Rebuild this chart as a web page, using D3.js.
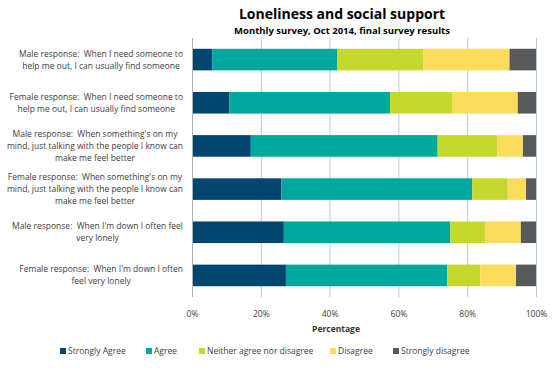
<!DOCTYPE html>
<html>
<head>
<meta charset="utf-8">
<title>Loneliness and social support</title>
<script src="https://d3js.org/d3.v7.min.js"></script>
<style>
  body { margin: 0; background: #fff; }
  text { font-family: "Open Sans", "Liberation Sans", sans-serif; fill: #333; white-space: pre; }
</style>
</head>
<body>
<svg width="552" height="368"></svg>
<script>
// categories (line breaks as in the chart)
var categories = [
  "Male response:  When I need someone to\nhelp me out, I can usually find someone",
  "Female response:  When I need someone to\nhelp me out, I can usually find someone",
  "Male response:  When something's on my\nmind, just talking with the people I know can\nmake me feel better",
  "Female response:  When something's on my\nmind, just talking with the people I know can\nmake me feel better",
  "Male response:  When I'm down I often feel\nvery lonely",
  "Female response:  When I'm down I often\nfeel very lonely"
];
var seriesNames = ["Strongly Agree", "Agree", "Neither agree nor disagree", "Disagree", "Strongly disagree"];
var stronglyAgree    = [5.9, 10.8, 17.1, 26.0, 26.7, 27.3];
var agree            = [36.3, 46.8, 54.3, 55.5, 48.4, 46.9];
var neither          = [25.0, 18.0, 17.3, 10.3, 10.1, 9.6];
var disagree         = [25.1, 19.1, 7.5, 5.3, 10.4, 10.4];
var stronglyDisagree = [7.7, 5.3, 3.8, 2.9, 4.4, 5.8];
var colors = ["#00466e", "#00a79d", "#c4d82e", "#fddc5c", "#58595b"];
var xTicks = [0, 20, 40, 60, 80, 100];

var values = [stronglyAgree, agree, neither, disagree, stronglyDisagree];
var rows = categories.map(function (c, i) {
  var r = { cat: c };
  seriesNames.forEach(function (s, k) { r[s] = values[k][i]; });
  return r;
});

var svg = d3.select("svg");
var plotL = 192, plotR = 536, plotT = 38, plotB = 297;

var x = d3.scaleLinear().domain([0, 100]).range([plotL, plotR]);
var y = d3.scaleBand().domain(categories).range([plotT, plotB]).paddingInner(0.5).paddingOuter(0.25);

// gridlines
svg.append("g").selectAll("line")
  .data(xTicks.slice(1))
  .enter().append("line")
  .attr("x1", function (d) { return x(d) + 0.5; })
  .attr("x2", function (d) { return x(d) + 0.5; })
  .attr("y1", plotT).attr("y2", plotB)
  .style("stroke", "#b9c9e3").style("stroke-width", 1);

// bars
var stack = d3.stack().keys(seriesNames)(rows);
svg.append("g").selectAll("g")
  .data(stack)
  .enter().append("g")
  .attr("fill", function (d, i) { return colors[i]; })
  .selectAll("rect")
  .data(function (d) { return d; })
  .enter().append("rect")
  .attr("x", function (d) { return x(d[0]); })
  .attr("width", function (d) { return x(d[1]) - x(d[0]); })
  .attr("y", function (d) { return y(d.data.cat); })
  .attr("height", y.bandwidth());

// left axis line
svg.append("line")
  .attr("x1", plotL + 0.5).attr("x2", plotL + 0.5)
  .attr("y1", plotT).attr("y2", plotB)
  .style("stroke", "#b0b0b0");

// x axis labels
var xAxis = svg.append("g")
  .attr("transform", "translate(0," + (plotB + 17) + ")")
  .call(d3.axisBottom(x).tickValues(xTicks).tickSize(0).tickFormat(function (d) { return d + "%"; }));
xAxis.select(".domain").remove();
xAxis.selectAll("text").attr("dy", 0).style("font-size", "8.5px").style("fill", "#404040");

svg.append("text")
  .attr("x", 336).attr("y", 332)
  .attr("text-anchor", "middle")
  .style("font-size", "8.5px").style("font-weight", "bold")
  .text("Percentage");

// category labels: block right-aligned, lines centred
var labelRight = 183, lineH = 12;
categories.forEach(function (c) {
  var lines = c.split("\n");
  var g = svg.append("g");
  var cy = y(c) + y.bandwidth() / 2;
  var t = g.selectAll("text").data(lines).enter().append("text")
    .attr("y", function (d, i) { return cy + (i - (lines.length - 1) / 2) * lineH; })
    .attr("dy", "0.35em")
    .attr("text-anchor", "middle")
    .style("font-size", "8.5px").style("fill", "#404040")
    .text(function (d) { return d; });
  var w = 0;
  t.each(function () { w = Math.max(w, this.getComputedTextLength()); });
  t.attr("x", labelRight - w / 2);
});

// titles
svg.append("text")
  .attr("x", 342).attr("y", 19)
  .attr("text-anchor", "middle")
  .style("font-size", "14px").style("font-weight", "bold").style("fill", "#000")
  .text("Loneliness and social support");
svg.append("text")
  .attr("x", 342).attr("y", 34)
  .attr("text-anchor", "middle")
  .style("font-size", "9.5px").style("font-weight", "bold").style("fill", "#000")
  .text("Monthly survey, Oct 2014, final survey results");

// legend
var legendX = [60, 146, 199, 330, 393];
var lg = svg.append("g").selectAll("g")
  .data(seriesNames)
  .enter().append("g")
  .attr("transform", function (d, i) { return "translate(" + legendX[i] + ",351)"; });
lg.append("rect").attr("x", 0).attr("y", -3).attr("width", 6).attr("height", 6)
  .attr("fill", function (d, i) { return colors[i]; });
lg.append("text").attr("x", 8).attr("dy", "0.35em")
  .style("font-size", "8.5px").style("fill", "#404040")
  .text(function (d) { return d; });
</script>
</body>
</html>
